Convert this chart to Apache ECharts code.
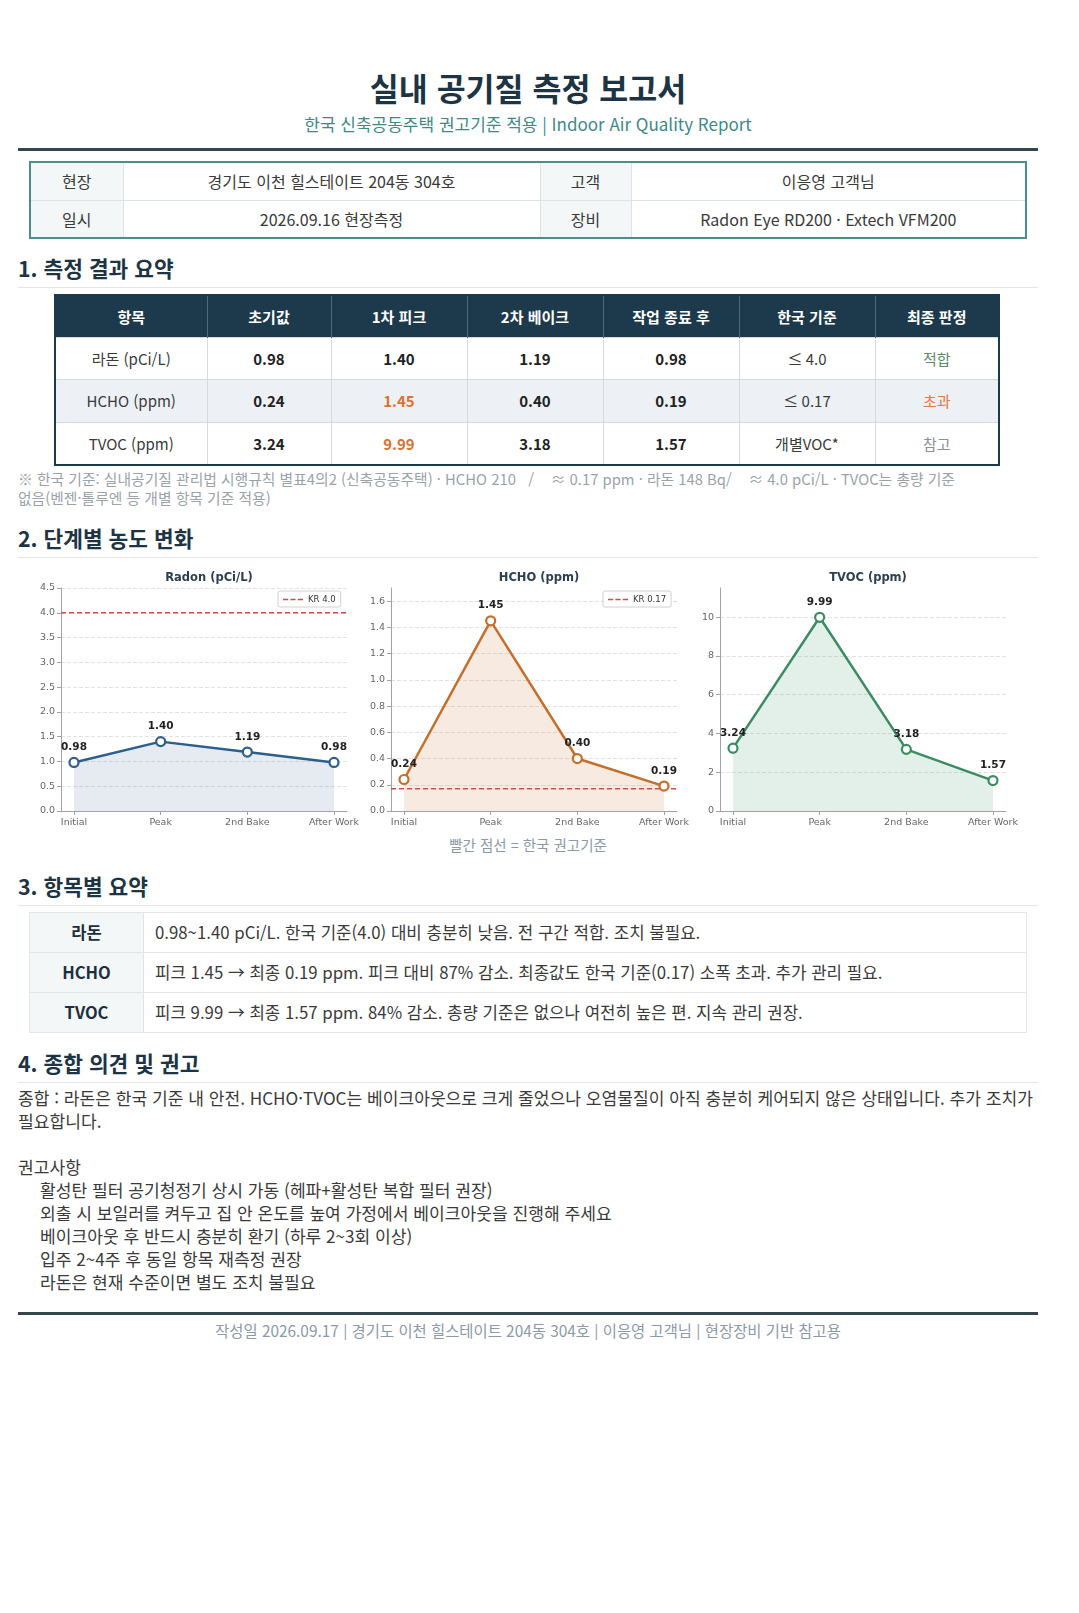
<!DOCTYPE html>
<html lang="ko">
<head>
<meta charset="utf-8">
<title>실내 공기질 측정 보고서</title>
<script src="https://cdn.jsdelivr.net/npm/echarts@6/dist/echarts.min.js"></script>
<style>
  * { box-sizing: border-box; }
  body {
    margin: 0;
    background: #fff;
    font-family: "Noto Sans CJK KR", "Noto Sans", sans-serif;
    color: #333;
  }
  .page { width: 1020px; margin-left: 18px; padding-top: 67px; }
  h1 {
    margin: 0; text-align: center; font-size: 31.5px; line-height: 40px;
    font-weight: 700; color: #1d3444;
  }
  .subtitle {
    text-align: center; font-size: 17px; line-height: 24px; color: #3d8a86; margin-top: 5px;
  }
  .rule-thick { height: 3px; background: #34474f; margin-top: 12px; }
  table { border-collapse: collapse; table-layout: fixed; }
  .info {
    width: 998px; margin: 10px 0 0 11px; border: 2px solid #4a8f8b;
    font-size: 16px; color: #3a3a3a;
  }
  .info td { height: 38px; text-align: center; border: 1px solid #dde4e7; }
  .info td.lab { background: #f4f7f8; }
  h2 {
    margin: 0; font-size: 21.4px; line-height: 28px; font-weight: 700; color: #1d3444;
    padding-bottom: 5px; border-bottom: 1.5px solid #e3e6e8;
  }
  .sec1 { margin-top: 15px; }
  .result {
    width: 944px; margin: 6px 0 0 36px; border: 2px solid #1c3a4c; font-size: 15px;
  }
  .result th {
    background: #1c3a4c; color: #fff; font-weight: 700; height: 42px;
    border-left: 1px solid #50687a;
  }
  .result td { height: 42.5px; text-align: center; border: 1px solid #d3dbe1; color: #3a3a3a; }
  .result tr.alt td { background: #edf1f5; }
  .result td.num { font-weight: 700; color: #222; }
  .result td.num.hi { color: #d9732f; }
  .result td.ok { color: #5b8a68; }
  .result td.over { color: #e07b39; }
  .result td.ref { color: #8a9096; }
  .note {
    margin-top: 3px; font-size: 14.8px; line-height: 19px; color: #9aa3aa;
  }
  .sec2 { margin-top: 17px; }
  #chart { width: 1020px; height: 274px; margin-top: 2px; }
  .caption { text-align: center; font-size: 14.5px; line-height: 20px; color: #8a9aa8; margin-top: 1px; }
  .sec3 { margin-top: 17px; }
  .summary {
    width: 998px; margin: 6px 0 0 11px; border: 1.5px solid #dcdfe2; font-size: 16.8px;
  }
  .summary td { height: 40px; border: 1px solid #e1e5e8; color: #3a3a3a; }
  .summary td.lab {
    background: #f4f7f8; text-align: center; font-weight: 700; color: #1d2f3c;
    font-size: 16.5px;
  }
  .summary td.txt { padding-left: 11px; }
  .sec4 { margin-top: 16px; }
  .opinion {
    margin-top: 3px; font-size: 17.1px; line-height: 23px; color: #3a3a3a;
    word-break: keep-all;
  }
  .opinion .item { padding-left: 22px; }
  .rule-foot { height: 3px; background: #34474f; margin-top: 19px; }
  .footer { text-align: center; font-size: 15.4px; line-height: 20px; color: #8a9aa8; margin-top: 5px; }
</style>
</head>
<body>
<div class="page">
  <h1>실내 공기질 측정 보고서</h1>
  <div class="subtitle">한국 신축공동주택 권고기준 적용 | Indoor Air Quality Report</div>
  <div class="rule-thick"></div>

  <table class="info">
    <colgroup><col style="width:93px"><col style="width:417px"><col style="width:91px"><col></colgroup>
    <tr><td class="lab">현장</td><td>경기도 이천 힐스테이트 204동 304호</td><td class="lab">고객</td><td>이응영 고객님</td></tr>
    <tr><td class="lab">일시</td><td>2026.09.16 현장측정</td><td class="lab">장비</td><td>Radon Eye RD200 · Extech VFM200</td></tr>
  </table>

  <h2 class="sec1">1. 측정 결과 요약</h2>
  <table class="result" id="resultTable"></table>
  <div class="note">※ 한국 기준: 실내공기질 관리법 시행규칙 별표4의2 (신축공동주택) · HCHO 210 &nbsp; / &nbsp; &nbsp;≈ 0.17 ppm · 라돈 148 Bq/ &nbsp; &nbsp;≈ 4.0 pCi/L · TVOC는 총량 기준<br>없음(벤젠·톨루엔 등 개별 항목 기준 적용)</div>

  <h2 class="sec2">2. 단계별 농도 변화</h2>
  <div id="chart"></div>
  <div class="caption">빨간 점선 = 한국 권고기준</div>

  <h2 class="sec3">3. 항목별 요약</h2>
  <table class="summary">
    <colgroup><col style="width:114px"><col></colgroup>
    <tr><td class="lab">라돈</td><td class="txt">0.98~1.40 pCi/L. 한국 기준(4.0) 대비 충분히 낮음. 전 구간 적합. 조치 불필요.</td></tr>
    <tr><td class="lab">HCHO</td><td class="txt">피크 1.45 → 최종 0.19 ppm. 피크 대비 87% 감소. 최종값도 한국 기준(0.17) 소폭 초과. 추가 관리 필요.</td></tr>
    <tr><td class="lab">TVOC</td><td class="txt">피크 9.99 → 최종 1.57 ppm. 84% 감소. 총량 기준은 없으나 여전히 높은 편. 지속 관리 권장.</td></tr>
  </table>

  <h2 class="sec4">4. 종합 의견 및 권고</h2>
  <div class="opinion"><div>종합 : 라돈은 한국 기준 내 안전. HCHO·TVOC는 베이크아웃으로 크게 줄었으나 오염물질이 아직 충분히 케어되지 않은 상태입니다. 추가 조치가 필요합니다.</div><div>&nbsp;</div><div>권고사항</div><div class="item">활성탄 필터 공기청정기 상시 가동 (헤파+활성탄 복합 필터 권장)</div><div class="item">외출 시 보일러를 켜두고 집 안 온도를 높여 가정에서 베이크아웃을 진행해 주세요</div><div class="item">베이크아웃 후 반드시 충분히 환기 (하루 2~3회 이상)</div><div class="item">입주 2~4주 후 동일 항목 재측정 권장</div><div class="item">라돈은 현재 수준이면 별도 조치 불필요</div></div>

  <div class="rule-foot"></div>
  <div class="footer">작성일 2026.09.17 | 경기도 이천 힐스테이트 204동 304호 | 이응영 고객님 | 현장장비 기반 참고용</div>
</div>

<script>
// ---- data ----
const stages = ['Initial', 'Peak', '2nd Bake', 'After Work'];
const radonValues = [0.98, 1.40, 1.19, 0.98];
const hchoValues = [0.24, 1.45, 0.40, 0.19];
const tvocValues = [3.24, 9.99, 3.18, 1.57];
const radonLimit = 4.0;
const hchoLimit = 0.17;

const panelTitles = ['Radon (pCi/L)', 'HCHO (ppm)', 'TVOC (ppm)'];
const yMax = [4.5, 1.7, 11.5];
const yInterval = [0.5, 0.2, 2];
const yDecimals = [1, 1, 0];

const tableHeaders = ['항목', '초기값', '1차 피크', '2차 베이크', '작업 종료 후', '한국 기준', '최종 판정'];
const tableColWidths = [152, 124, 136, 136, 136, 136, 124];
const tableItems = ['라돈 (pCi/L)', 'HCHO (ppm)', 'TVOC (ppm)'];
const tableStandards = ['≤ 4.0', '≤ 0.17', '개별VOC*'];
const tableVerdicts = ['적합', '초과', '참고'];
const verdictClass = ['ok', 'over', 'ref'];
const peakHighlight = [false, true, true];

// ---- results table ----
function buildTable() {
    const table = document.getElementById('resultTable');
    const series = [radonValues, hchoValues, tvocValues];
    let html = '<colgroup>' + tableColWidths.map(w => `<col style="width:${w}px">`).join('') + '</colgroup>';
    html += '<tr>' + tableHeaders.map(h => `<th>${h}</th>`).join('') + '</tr>';
    tableItems.forEach((item, r) => {
        html += `<tr class="${r === 1 ? 'alt' : ''}"><td>${item}</td>`;
        series[r].forEach((v, c) => {
            const hi = (c === 1 && peakHighlight[r]) ? ' hi' : '';
            html += `<td class="num${hi}">${v.toFixed(2)}</td>`;
        });
        html += `<td>${tableStandards[r]}</td><td class="${verdictClass[r]}">${tableVerdicts[r]}</td></tr>`;
    });
    table.innerHTML = html;
}
buildTable();

// ---- charts ----
const seriesValues = [radonValues, hchoValues, tvocValues];
const limits = [radonLimit, hchoLimit, null];
const lineColors = ['#2e5e8b', '#c46f2c', '#3c8c63'];
const xMin = -0.15, xMax = 3.15;
const gridLefts = [43, 373, 702];
const gridWidth = 286;
const legendLefts = [260, 585];
const font = 'DejaVu Sans';
// dashed legend glyph, like a matplotlib '--' handle
const dashIcon = 'path://M0,0H7V2H0Z M10,0H17V2H10Z M20,0H27V2H20Z';

const option = {
    animation: false,
    title: [], grid: [], xAxis: [], yAxis: [], series: [], legend: []
};

seriesValues.forEach((vals, i) => {
    option.title.push({
        text: panelTitles[i],
        left: gridLefts[i] + gridWidth / 2,
        top: 7,
        textAlign: 'center',
        textStyle: { fontFamily: font, fontSize: 11.5, fontWeight: 'bold', color: '#2c3e50' }
    });
    option.grid.push({ left: gridLefts[i], top: 28, width: gridWidth, height: 223 });
    option.xAxis.push({
        type: 'value', gridIndex: i, min: xMin, max: xMax,
        axisLine: { show: true, onZero: false, lineStyle: { color: '#a0a4a8', width: 1 } },
        axisTick: { show: true, customValues: [0, 1, 2, 3], length: 4, lineStyle: { color: '#a0a4a8' } },
        axisLabel: {
            customValues: [0, 1, 2, 3],
            formatter: v => stages[v],
            margin: 7, fontFamily: font, fontSize: 9.5, color: '#666'
        },
        splitLine: { show: false }
    });
    option.yAxis.push({
        type: 'value', gridIndex: i, min: 0, max: yMax[i], interval: yInterval[i],
        axisLine: { show: true, onZero: false, lineStyle: { color: '#a0a4a8', width: 1 } },
        axisTick: { show: true, length: 4, lineStyle: { color: '#a0a4a8' } },
        axisLabel: {
            formatter: v => v.toFixed(yDecimals[i]),
            showMaxLabel: i === 0,
            margin: 6, fontFamily: font, fontSize: 9.5, color: '#666'
        },
        splitLine: {
            show: true, showMinLine: false, showMaxLine: i === 0,
            lineStyle: { color: '#e2e2e2', type: 'dashed', width: 1 }
        }
    });
    option.series.push({
        type: 'line', xAxisIndex: i, yAxisIndex: i,
        data: vals.map((v, k) => [k, v]),
        z: 3,
        lineStyle: { color: lineColors[i], width: 2.5 },
        symbol: 'circle', symbolSize: 9,
        itemStyle: { color: '#fff', borderColor: lineColors[i], borderWidth: 2.2 },
        areaStyle: { color: lineColors[i], opacity: i === 0 ? 0.12 : 0.14 },
        label: {
            show: true, position: 'top', distance: 4,
            formatter: p => p.value[1].toFixed(2),
            fontFamily: font, fontSize: 10.5, fontWeight: 'bold', color: '#222'
        }
    });
    if (limits[i] !== null) {
        const name = 'KR ' + (i === 0 ? limits[i].toFixed(1) : limits[i].toFixed(2));
        option.series.push({
            name: name, type: 'line', xAxisIndex: i, yAxisIndex: i,
            data: [[xMin, limits[i]], [xMax, limits[i]]],
            symbol: 'none', z: 2, silent: true,
            lineStyle: { color: '#c9504a', width: 1.4, type: [5, 3] },
            itemStyle: { color: '#c9504a' }
        });
        option.legend.push({
            data: [{ name: name, icon: dashIcon }],
            left: legendLefts[i],
            top: 31,
            backgroundColor: '#fff',
            borderColor: '#d0d0d0', borderWidth: 1, borderRadius: 2,
            padding: [4, 5, 3, 5],
            itemWidth: 20, itemHeight: 1.5, itemGap: 4,
            itemStyle: { color: '#c9504a', borderWidth: 0 },
            textStyle: { fontFamily: font, fontSize: 8.5, color: '#333' },
            selectedMode: false
        });
    }
});

const chart = echarts.init(document.getElementById('chart'));
chart.setOption(option);

window.addEventListener('resize', () => {
    chart.resize();
});
</script>
</body>
</html>
